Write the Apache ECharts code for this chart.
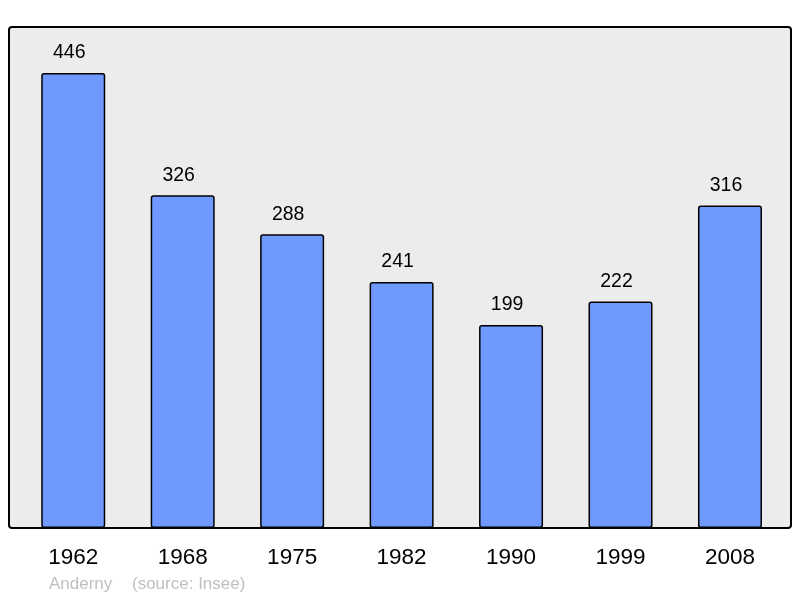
<!DOCTYPE html>
<html><head><meta charset="utf-8">
<script src="https://cdn.jsdelivr.net/npm/echarts@6/dist/echarts.min.js"></script>
<style>html,body{margin:0;padding:0;background:#fff}#c{width:800px;height:598px}</style>
</head><body><div id="c"></div>
<script>
const years = ['1962','1968','1975','1982','1990','1999','2008'];
const population = [446,326,288,241,199,222,316];
const sourceName = 'Anderny';
const sourceNote = '(source: Insee)';

const chart = echarts.init(document.getElementById('c'), null, {renderer:'canvas'});
chart.setOption({
  animation:false,
  backgroundColor:'#ffffff',
  graphic:[
    {type:'rect', z:0, shape:{x:9, y:27, width:782, height:501, r:3},
     style:{fill:'#ececec', stroke:'#000', lineWidth:2}},
    {type:'text', left:49, top:576, style:{text:sourceName, fill:'#c0c0c0', font:'17px "Liberation Sans", Arial, sans-serif'}},
    {type:'text', left:132, top:576, style:{text:sourceNote, fill:'#c0c0c0', font:'17px "Liberation Sans", Arial, sans-serif'}}
  ],
  grid:{left:18.5, width:766.2, top:27, bottom:70, containLabel:false},
  xAxis:{type:'category', data:years,
    axisLine:{show:false}, axisTick:{show:false},
    axisLabel:{color:'#000', fontSize:22.5, margin:18, fontFamily:'"Liberation Sans", Arial, sans-serif'}},
  yAxis:{type:'value', min:0, max:491, show:false, splitLine:{show:false}},
  series:[{
    type:'bar', data:population, barWidth:64, z:2,
    itemStyle:{color:'#7099ff', borderColor:'#000', borderWidth:1.5, borderRadius:2},
    label:{show:true, position:'top', distance:10, offset:[-4,0], color:'#000', fontSize:19.5,
      fontFamily:'"Liberation Sans", Arial, sans-serif'}
  }]
});
</script></body></html>
